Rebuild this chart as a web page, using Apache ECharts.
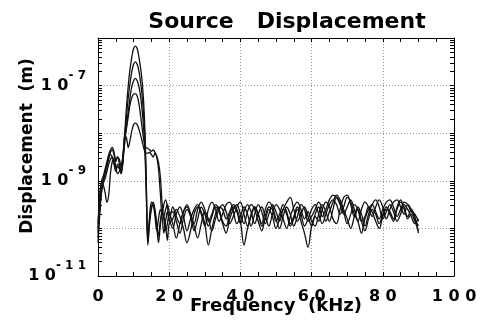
<!DOCTYPE html>
<html>
<head>
<meta charset="utf-8">
<script src="https://cdn.jsdelivr.net/npm/echarts@6/dist/echarts.min.js"></script>
<style>
  html, body { margin: 0; padding: 0; background: #fff; }
  #chart { width: 480px; height: 323px; }
</style>
</head>
<body>
<div id="chart"></div>
<script>
// frequency in kHz: 0..20 every 0.5, then 21..90 every 1
const freq = [
  0, 0.5, 1, 1.5, 2, 2.5, 3, 3.5, 4, 4.5, 5, 5.5, 6, 6.5, 7, 7.5, 8, 8.5, 9, 9.5,
  10, 10.5, 11, 11.5, 12, 12.5, 13, 13.5, 14, 14.5, 15, 15.5, 16, 16.5, 17, 17.5, 18, 18.5, 19, 19.5, 20,
  21, 22, 23, 24, 25, 26, 27, 28, 29, 30,
  31, 32, 33, 34, 35, 36, 37, 38, 39, 40,
  41, 42, 43, 44, 45, 46, 47, 48, 49, 50,
  51, 52, 53, 54, 55, 56, 57, 58, 59, 60,
  61, 62, 63, 64, 65, 66, 67, 68, 69, 70,
  71, 72, 73, 74, 75, 76, 77, 78, 79, 80,
  81, 82, 83, 84, 85, 86, 87, 88, 89, 90
];

// displacement, read as log10(m)
const dispA = [
  -10.1, -9.5, -9.1, -8.95, -8.8, -8.65, -8.5, -8.4, -8.35, -8.45, -8.6, -8.5, -8.55, -8.7, -8.45, -8.0, -7.45, -7.0, -6.65, -6.4,
  -6.22, -6.17, -6.22, -6.4, -6.65, -7.0, -7.6, -8.8, -10.3, -9.75, -9.45, -9.5, -9.75, -10.05, -9.8, -9.6, -9.75, -10.1, -9.85, -9.65, -9.8,
  -10.0, -9.7, -9.55, -9.75, -10.05, -9.8, -9.6, -9.5, -9.7, -9.95,
  -9.6, -9.45, -9.6, -9.85, -9.7, -9.5, -9.45, -9.65, -9.9, -9.75,
  -9.55, -9.7, -9.95, -9.7, -9.5, -9.65, -9.9, -9.7, -9.5, -9.65,
  -9.85, -9.6, -9.45, -9.35, -9.6, -9.85, -9.7, -9.55, -9.75, -9.95,
  -9.7, -9.55, -9.75, -9.6, -9.4, -9.3, -9.35, -9.5, -9.7, -9.55,
  -9.4, -9.6, -9.85, -9.6, -9.45, -9.55, -9.75, -9.55, -9.4, -9.55,
  -9.8, -9.6, -9.45, -9.4, -9.55, -9.7, -9.5, -9.6, -9.8, -9.95
];
const dispB = [
  -10.3, -9.7, -9.25, -9.05, -8.95, -8.8, -8.65, -8.55, -8.5, -8.6, -8.75, -8.65, -8.7, -8.85, -8.6, -8.15, -7.65, -7.25, -6.95, -6.7,
  -6.55, -6.5, -6.55, -6.7, -6.95, -7.3, -7.85, -8.9, -10.2, -9.8, -9.55, -9.45, -9.6, -9.9, -10.15, -9.85, -9.65, -9.8, -10.05, -9.9, -9.7,
  -9.65, -9.85, -10.1, -9.8, -9.6, -9.75, -10.05, -9.8, -9.55, -9.7,
  -9.95, -9.75, -9.55, -9.65, -9.9, -10.1, -9.8, -9.6, -9.5, -9.7,
  -9.9, -9.65, -9.5, -9.6, -9.85, -10.05, -9.75, -9.55, -9.6, -9.85,
  -9.7, -9.5, -9.65, -9.9, -9.75, -9.55, -9.7, -9.95, -9.8, -9.6,
  -9.5, -9.7, -9.9, -9.7, -9.5, -9.4, -9.5, -9.7, -9.55, -9.35,
  -9.45, -9.7, -9.85, -10.1, -9.8, -9.6, -9.5, -9.65, -9.8, -9.6,
  -9.45, -9.4, -9.55, -9.75, -9.6, -9.45, -9.5, -9.65, -9.7, -9.85
];
const dispC = [
  -10.0, -9.35, -9.05, -9.1, -9.25, -9.45, -9.3, -8.85, -8.6, -8.55, -8.7, -8.85, -8.8, -8.7, -8.5, -8.2, -7.85, -7.55, -7.25, -7.02,
  -6.9, -6.85, -6.9, -7.02, -7.25, -7.6, -8.1, -9.1, -10.35, -9.9, -9.6, -9.5, -9.65, -9.95, -10.3, -9.95, -9.7, -9.75, -9.95, -10.25, -9.9,
  -9.8, -9.6, -9.75, -10.0, -10.3, -10.05, -9.7, -9.55, -9.65, -9.9,
  -10.35, -10.0, -9.7, -9.55, -9.6, -9.8, -9.65, -9.5, -9.6, -9.85,
  -10.35, -10.0, -9.75, -9.55, -9.7, -9.95, -9.8, -9.6, -9.75, -10.0,
  -9.8, -9.6, -9.7, -9.95, -9.8, -9.6, -9.85, -10.1, -10.4, -9.95,
  -9.75, -9.85, -9.6, -9.45, -9.55, -9.8, -9.9, -9.6, -9.35, -9.3,
  -9.5, -9.75, -9.6, -9.85, -10.05, -9.8, -9.6, -9.7, -9.9, -9.7,
  -9.55, -9.7, -9.85, -9.6, -9.45, -9.55, -9.8, -9.7, -9.85, -10.05
];
const dispD = [
  -10.2, -9.6, -9.2, -9.0, -8.85, -8.7, -8.55, -8.45, -8.5, -8.65, -8.8, -8.7, -8.75, -8.85, -8.55, -8.1, -7.9, -7.65, -7.4, -7.25,
  -7.18, -7.17, -7.22, -7.38, -7.65, -7.95, -8.2, -8.3, -8.32, -8.35, -8.38, -8.35, -8.4, -8.5, -8.75, -9.25, -9.7, -9.5, -9.4, -9.55, -9.85,
  -9.55, -9.75, -9.9, -9.65, -9.5, -9.7, -9.95, -10.2, -9.9, -9.65,
  -9.8, -10.05, -9.8, -9.6, -9.5, -9.65, -9.9, -9.75, -9.55, -9.45,
  -9.7, -9.95, -9.7, -9.55, -9.7, -9.9, -9.6, -9.45, -9.55, -9.8,
  -10.0, -9.75, -9.55, -9.7, -9.95, -9.75, -9.5, -9.6, -9.85, -9.75,
  -9.6, -9.45, -9.6, -9.85, -9.65, -9.45, -9.3, -9.4, -9.6, -9.8,
  -10.0, -9.75, -9.55, -9.7, -9.95, -9.7, -9.5, -9.4, -9.55, -9.8,
  -9.65, -9.5, -9.65, -9.85, -9.7, -9.5, -9.6, -9.75, -9.9, -9.8
];
const dispE = [
  -9.9, -9.3, -9.0, -8.9, -8.75, -8.6, -8.45, -8.35, -8.3, -8.4, -8.55, -8.5, -8.65, -8.8, -8.6, -8.05, -8.1, -8.3, -8.15, -7.95,
  -7.82, -7.79, -7.82, -7.92, -8.05, -8.2, -8.35, -8.42, -8.42, -8.4, -8.45, -8.5, -8.42, -8.48, -8.62, -8.9, -9.45, -9.75, -9.6, -9.5, -9.65,
  -9.9, -10.2, -9.9, -9.65, -9.55, -9.7, -9.9, -9.6, -9.45, -9.6,
  -9.85, -9.7, -9.5, -9.6, -9.85, -9.95, -9.7, -9.55, -9.65, -9.9,
  -9.65, -9.5, -9.65, -9.9, -9.7, -9.55, -9.75, -9.95, -9.7, -9.5,
  -9.6, -9.8, -10.0, -9.75, -9.55, -9.45, -9.6, -9.8, -9.65, -9.85,
  -9.95, -9.7, -9.5, -9.65, -9.85, -9.6, -9.35, -9.45, -9.65, -9.9,
  -9.7, -9.5, -9.6, -9.85, -9.75, -9.55, -9.65, -9.85, -10.0, -9.75,
  -9.6, -9.65, -9.8, -9.55, -9.4, -9.6, -9.75, -9.6, -9.75, -10.1
];

const seriesLogs = [dispA, dispB, dispC, dispD, dispE];
const labeledExps = [-11, -9, -7];
const decadeStarts = [1e-11, 1e-10, 1e-9, 1e-8, 1e-7];
const minorMults = [1, 2, 3, 4, 5, 6, 7, 8, 9];

const yTicks = [];
decadeStarts.forEach(d => minorMults.forEach(m => yTicks.push(m * d)));
yTicks.push(1e-6);

const FONT = 'DejaVu Sans';
const spaced = s => String(s).split('').join(' ');
const gridLine = { color: '#999', type: [1, 2], width: 1 };

const chart = echarts.init(document.getElementById('chart'));

const xBase = {
  type: 'value', min: 0, max: 100, interval: 20,
  axisLine: { show: true, onZero: false, lineStyle: { color: '#000', width: 1 } },
  axisTick: { show: true, inside: true, length: 4, lineStyle: { color: '#000' } },
  minorTick: { show: true, splitNumber: 4, length: 4, lineStyle: { color: '#000' } }
};
const yBase = {
  type: 'log', logBase: 10, min: 1e-11, max: 1e-6, splitNumber: 5,
  axisLine: { show: true, onZero: false, lineStyle: { color: '#000', width: 1 } },
  axisTick: { show: true, inside: true, length: 4, customValues: yTicks, lineStyle: { color: '#000' } },
  splitLine: { show: false }
};

chart.setOption({
  animation: false,
  backgroundColor: '#fff',
  title: {
    text: 'Source   Displacement',
    left: 282, top: 6, textAlign: 'center',
    textStyle: { fontFamily: FONT, fontWeight: 'bold', fontSize: 22, color: '#000' }
  },
  grid: { left: 98, right: 26, top: 38, bottom: 47, outerBoundsMode: 'none' },
  xAxis: [
    Object.assign({}, xBase, {
      position: 'bottom',
      name: 'Frequency  (kHz)', nameLocation: 'middle', nameGap: 21, nameMoveOverlap: false,
      nameTextStyle: { fontFamily: FONT, fontWeight: 'bold', fontSize: 18, color: '#000' },
      axisLabel: {
        margin: 13, formatter: v => spaced(v),
        fontFamily: FONT, fontWeight: 'bold', fontSize: 16, color: '#000'
      },
      splitLine: { show: true, lineStyle: gridLine }
    }),
    Object.assign({}, xBase, {
      position: 'top', axisLabel: { show: false }, splitLine: { show: false }
    })
  ],
  yAxis: [
    Object.assign({}, yBase, {
      position: 'left',
      name: 'Displacement  (m)', nameLocation: 'middle', nameGap: 62, nameRotate: 90, nameMoveOverlap: false,
      nameTextStyle: {
        fontFamily: FONT, fontWeight: 'bold', fontSize: 17, color: '#000',
        padding: [0, 0, 0, 22]
      },
      axisLabel: {
        margin: 12,
        formatter: v => {
          const e = Math.round(Math.log10(v));
          if (labeledExps.indexOf(e) < 0) return '';
          return '{m|1 0}{e|- ' + spaced(Math.abs(e)) + '}';
        },
        rich: {
          m: { fontFamily: FONT, fontWeight: 'bold', fontSize: 16, color: '#000', lineHeight: 32 },
          e: { fontFamily: FONT, fontWeight: 'bold', fontSize: 12, color: '#000', verticalAlign: 'top', lineHeight: 12 }
        }
      }
    }),
    Object.assign({}, yBase, {
      position: 'right', axisLabel: { show: false }
    }),
    // decade grid lines only
    {
      type: 'log', logBase: 10, min: 1e-11, max: 1e-6, splitNumber: 5, position: 'left',
      axisLine: { show: false }, axisTick: { show: false }, axisLabel: { show: false },
      splitLine: { show: true, lineStyle: gridLine }
    }
  ],
  series: seriesLogs.map(logs => ({
    type: 'line',
    xAxisIndex: 0, yAxisIndex: 0,
    showSymbol: false,
    smooth: 0.35,
    lineStyle: { color: '#111', width: 1.3 },
    data: freq.map((f, i) => [f, Math.pow(10, logs[i])])
  }))
});
</script>
</body>
</html>
